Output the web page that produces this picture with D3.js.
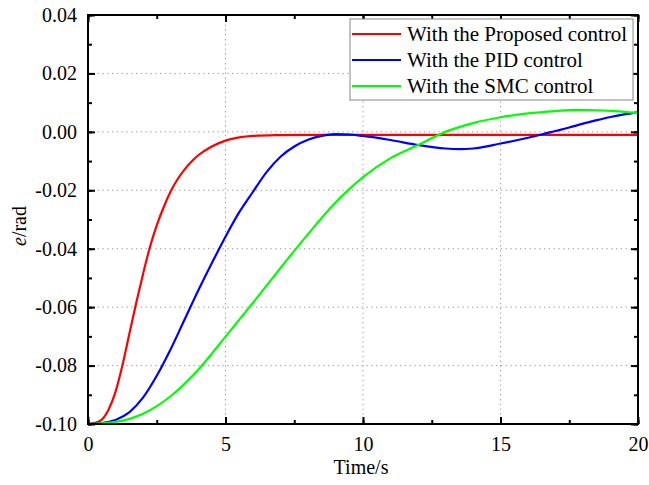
<!DOCTYPE html>
<html><head><meta charset="utf-8">
<script src="https://cdn.jsdelivr.net/npm/d3@7"></script>
<style>body{margin:0;background:#fff}svg{display:block}</style>
</head><body>
<script>
const seriesNames = ["With the Proposed control","With the PID control","With the SMC control"];
const seriesColors = ["#ff0000","#0000ff","#00ff00"];
const tProposed = [0,0.25,0.5,0.75,1,1.25,1.5,1.75,2,2.25,2.5,2.75,3,3.25,3.5,3.75,4,4.5,5,5.5,6,7,8,10,12,14,16,18,20];
const eProposed = [-0.1,-0.0996,-0.0985,-0.0950,-0.0890,-0.0800,-0.0693,-0.0587,-0.0487,-0.0395,-0.0320,-0.0258,-0.0205,-0.0163,-0.0130,-0.0103,-0.0081,-0.0050,-0.0030,-0.0019,-0.0014,-0.0011,-0.001,-0.001,-0.001,-0.001,-0.001,-0.001,-0.001];
const tPID = [0,0.5,1,1.5,2,2.5,3,3.5,4,4.5,5,5.5,6,6.5,7,7.5,8,8.5,9,9.5,10,11,12,13,13.5,14,15,16,16.5,17,17.5,18,18.5,19,19.5,20];
const ePID = [-0.1,-0.0997,-0.0986,-0.0960,-0.0910,-0.0835,-0.0745,-0.0645,-0.0545,-0.0450,-0.0359,-0.0275,-0.0205,-0.0137,-0.0085,-0.0050,-0.0027,-0.0014,-0.0008,-0.0009,-0.0014,-0.0028,-0.0045,-0.0057,-0.0059,-0.0057,-0.0040,-0.0020,-0.0009,0.0003,0.0015,0.0028,0.0040,0.0051,0.0060,0.0067];
const tSMC = [0,1,2,3,4,5,6,7,8,9,10,11,12,13,14,15,16,17,17.7,18.5,19,20];
const eSMC = [-0.1,-0.0993,-0.0965,-0.0905,-0.0815,-0.0701,-0.0585,-0.0466,-0.0350,-0.0242,-0.0155,-0.0090,-0.0045,0.0000,0.0030,0.0050,0.0063,0.0071,0.0075,0.0074,0.0072,0.0064];
const xTicks = [0,5,10,15,20];
const yTicks = [0.04,0.02,0.00,-0.02,-0.04,-0.06,-0.08,-0.10];

const W=649,H=485, L=88,R=638,T=15,B=424;
const svg=d3.select("body").append("svg").attr("width",W).attr("height",H);
const x=d3.scaleLinear().domain([0,20]).range([L,R]);
const y=d3.scaleLinear().domain([-0.10,0.04]).range([B,T]);
const font="'Liberation Serif','Times New Roman',serif";

// grid
const g=svg.append("g");
g.selectAll(".gx").data([5,10,15]).join("line").attr("x1",d=>x(d)).attr("x2",d=>x(d)).attr("y1",T).attr("y2",B)
 .attr("stroke","#999").attr("stroke-width",1).attr("stroke-dasharray","1.3,3.5");
g.selectAll(".gy").data([0.02,0,-0.02,-0.04,-0.06,-0.08]).join("line").attr("y1",d=>y(d)).attr("y2",d=>y(d)).attr("x1",L).attr("x2",R)
 .attr("stroke","#999").attr("stroke-width",1).attr("stroke-dasharray","1.3,3.5");

// curves
const sets=[[tProposed,eProposed],[tPID,ePID],[tSMC,eSMC]];
const line=d3.line().x(d=>x(d[0])).y(d=>y(d[1])).curve(d3.curveMonotoneX);
svg.append("defs").append("clipPath").attr("id","clip").append("rect").attr("x",L).attr("y",T).attr("width",R-L).attr("height",B-T+2);
sets.forEach((s,i)=>{
  const pts=s[0].map((t,j)=>[t,s[1][j]]);
  svg.append("path").attr("d",line(pts)).attr("fill","none").attr("stroke",seriesColors[i]).attr("stroke-width",2.2).attr("clip-path","url(#clip)");
});

// axes with inward ticks
const majorLen=7, minorLen=4;
const ax=(sel)=>sel.selectAll("text").attr("font-family",font).attr("font-size",20).attr("fill","#000");
const xMinor=d3.range(0,20.01,2.5);
const yMinor=d3.range(-0.10,0.0401,0.01);
const yFmt=d=>d3.format(".2f")(d).replace("\u2212","-");
const axB=svg.append("g").attr("transform",`translate(0,${B})`).call(d3.axisBottom(x).tickValues(xTicks).tickSize(-majorLen).tickPadding(13).tickFormat(d3.format("d")));
const axL=svg.append("g").attr("transform",`translate(${L},0)`).call(d3.axisLeft(y).tickValues(yTicks).tickSize(-majorLen).tickPadding(11).tickFormat(yFmt));
const axT=svg.append("g").attr("transform",`translate(0,${T})`).call(d3.axisTop(x).tickValues(xTicks).tickSize(-majorLen).tickFormat(""));
const axR=svg.append("g").attr("transform",`translate(${R},0)`).call(d3.axisRight(y).tickValues(yTicks).tickSize(-majorLen).tickFormat(""));
const mB=svg.append("g").attr("transform",`translate(0,${B})`).call(d3.axisBottom(x).tickValues(xMinor).tickSize(-minorLen).tickFormat(""));
const mT=svg.append("g").attr("transform",`translate(0,${T})`).call(d3.axisTop(x).tickValues(xMinor).tickSize(-minorLen).tickFormat(""));
const mL=svg.append("g").attr("transform",`translate(${L},0)`).call(d3.axisLeft(y).tickValues(yMinor).tickSize(-minorLen).tickFormat(""));
const mR=svg.append("g").attr("transform",`translate(${R},0)`).call(d3.axisRight(y).tickValues(yMinor).tickSize(-minorLen).tickFormat(""));
[axB,axL,axT,axR,mB,mT,mL,mR].forEach(a=>{a.select(".domain").remove();a.selectAll("line").attr("stroke","#000").attr("stroke-width",2);ax(a);});
axB.selectAll("text").attr("dy","0.71em");
svg.append("rect").attr("x",L).attr("y",T).attr("width",R-L).attr("height",B-T).attr("fill","none").attr("stroke","#000").attr("stroke-width",2);

// axis titles
svg.append("text").attr("x",(L+R)/2-2).attr("y",474).attr("text-anchor","middle").attr("font-family",font).attr("font-size",20).text("Time/s");
const yl=svg.append("text").attr("transform","translate(26,226) rotate(-90)").attr("text-anchor","middle").attr("font-family",font).attr("font-size",20);
yl.append("tspan").attr("font-style","italic").text("e");
yl.append("tspan").text("/rad");

// legend
const lg=svg.append("g");
lg.append("rect").attr("x",350).attr("y",19).attr("width",283).attr("height",81).attr("fill","#fff").attr("stroke","#888").attr("stroke-width",1);
seriesNames.forEach((n,i)=>{
  const cy=34+i*26;
  lg.append("line").attr("x1",352).attr("x2",401).attr("y1",cy).attr("y2",cy).attr("stroke",seriesColors[i]).attr("stroke-width",2.2);
  lg.append("text").attr("x",407).attr("y",cy).attr("dy","0.35em").attr("font-family",font).attr("font-size",21).text(n);
});
</script>
</body></html>
